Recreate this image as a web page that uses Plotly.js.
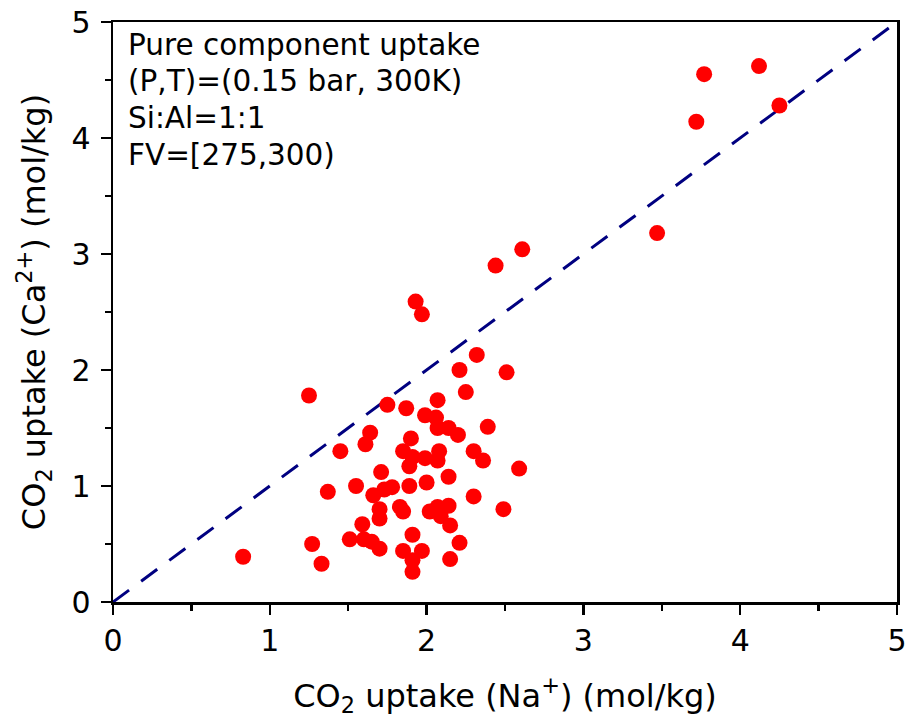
<!DOCTYPE html>
<html>
<head>
<meta charset="utf-8">
<script src="https://cdn.plot.ly/plotly-3.0.1.min.js"></script>
<style>html,body{margin:0;padding:0;background:#fff;}#chart{width:909px;height:727px;}</style>
</head>
<body>
<div id="chart"></div>
<script>
// CO2 uptake with Na+ (x) vs Ca2+ (y), mol/kg
const naUptake = [
  3.77, 4.12, 4.25, 3.72, 3.47, 2.61, 2.44,
  1.93, 1.97, 2.32, 2.21, 2.51, 2.25, 1.25, 2.07, 1.75, 1.87, 1.99, 2.06,
  2.07, 2.14, 2.20, 2.39, 1.64, 1.61, 1.45, 1.90, 1.85, 1.91, 1.89, 1.99,
  2.08, 2.07, 2.30, 2.36, 2.59, 1.71, 2.14, 1.37, 1.55, 1.66, 1.73, 1.78,
  1.89, 2.00, 1.70, 1.70, 1.83, 1.85, 2.02, 2.07, 2.14, 2.09, 2.15, 2.30,
  2.49, 1.59, 1.51, 1.60, 1.65, 1.70, 1.27, 1.33, 0.83, 1.91, 1.85, 1.97,
  1.91, 1.91, 2.21, 2.15
];
const caUptake = [
  4.55, 4.62, 4.28, 4.14, 3.18, 3.04, 2.90,
  2.59, 2.48, 2.13, 2.00, 1.98, 1.81, 1.78, 1.74, 1.70, 1.67, 1.61, 1.59,
  1.50, 1.50, 1.44, 1.51, 1.46, 1.36, 1.30, 1.41, 1.30, 1.25, 1.17, 1.24,
  1.30, 1.22, 1.30, 1.22, 1.15, 1.12, 1.08, 0.95, 1.00, 0.92, 0.97, 0.99,
  1.00, 1.03, 0.80, 0.72, 0.82, 0.78, 0.78, 0.82, 0.83, 0.74, 0.66, 0.91,
  0.80, 0.67, 0.54, 0.54, 0.52, 0.46, 0.50, 0.33, 0.39, 0.58, 0.44, 0.44,
  0.36, 0.26, 0.51, 0.37
];
const parityX = [0, 5];
const parityY = [0, 5];
const tickVals = [0, 1, 2, 3, 4, 5];
const tickText = ['0', '1', '2', '3', '4', '5'];
const noteLines = ['Pure component uptake', '(P,T)=(0.15 bar, 300K)', 'Si:Al=1:1', 'FV=[275,300)'];
const xTitle = 'CO<sub>2</sub> uptake (Na<sup>+</sup>) (mol/kg)';
const yTitle = 'CO<sub>2</sub> uptake (Ca<sup>2+</sup>) (mol/kg)';

const FONT = 'DejaVu Sans, Liberation Sans, Arial, sans-serif';

const traces = [
  {
    x: parityX, y: parityY, type: 'scatter', mode: 'lines',
    line: {color: '#000080', width: 3, dash: '20px,15px'},
    hoverinfo: 'skip', showlegend: false
  },
  {
    x: naUptake, y: caUptake, type: 'scatter', mode: 'markers',
    marker: {color: '#ff0000', size: 16, line: {width: 0}},
    showlegend: false
  }
];

function axis(title) {
  return {
    range: [0, 5], autorange: false,
    tickvals: tickVals, ticktext: tickText,
    ticks: 'outside', ticklen: 10, tickwidth: 2.5, tickcolor: '#000',
    minor: {dtick: 0.5, tick0: 0, ticks: 'outside', ticklen: 6, tickwidth: 2.5, tickcolor: '#000'},
    showline: true, linewidth: 2.5, linecolor: '#000', mirror: true,
    showgrid: false, zeroline: false,
    tickfont: {family: FONT, size: 30, color: '#000'},
    title: {text: title, font: {family: FONT, size: 32, color: '#000'}},
    automargin: false
  };
}

const xa = axis(xTitle);
xa.title.standoff = 28;
const ya = axis(yTitle);
ya.title.standoff = 16;
ya.ticklabelstandoff = 4;

// one annotation per text line, each set at its own line position
const lineCentersPaper = [0.9608, 0.8975, 0.8344, 0.7711];
const annotations = noteLines.map((t, i) => ({
  xref: 'paper', yref: 'paper', x: 0.016, y: lineCentersPaper[i],
  xanchor: 'left', yanchor: 'middle', align: 'left', showarrow: false,
  text: t,
  font: {family: FONT, size: 29.5, color: '#000'}
}));

const layout = {
  width: 909, height: 727,
  margin: {l: 113, r: 12, t: 22, b: 125},
  paper_bgcolor: '#fff', plot_bgcolor: '#fff',
  xaxis: xa, yaxis: ya,
  showlegend: false,
  annotations: annotations
};

Plotly.newPlot('chart', traces, layout, {displayModeBar: false, staticPlot: true});
</script>
</body>
</html>
